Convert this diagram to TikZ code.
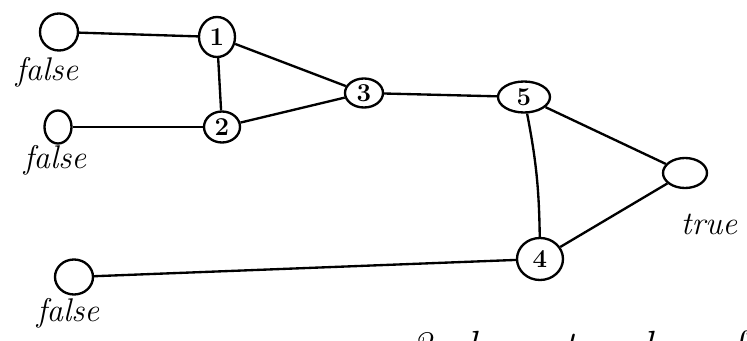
\documentclass[tikz,border=0pt]{standalone}
\usetikzlibrary{shapes.geometric}
\begin{document}
\begin{tikzpicture}[x=0.03cm,y=-0.03cm,line width=2pt,
    vert/.style={draw,ellipse,inner sep=0pt,font=\fontsize{22}{24}\selectfont\bfseries},
    lbl/.style={font=\fontsize{28}{30}\selectfont\itshape},
    note/.style={anchor=base,font=\fontsize{36}{40}\selectfont\itshape}]
    \useasboundingbox (0,0) rectangle (747,341);
    \clip (0,0) rectangle (747,341);
    \node[vert,minimum width=1.14cm,minimum height=1.11cm] (f1) at (59,32) {};
    \node[vert,minimum width=0.81cm,minimum height=0.99cm] (f2) at (58,127) {};
    \node[vert,minimum width=1.14cm,minimum height=1.05cm] (f3) at (74,277) {};
    \node[vert,minimum width=1.08cm,minimum height=1.2cm] (n1) at (217,37) {1};
    \node[vert,minimum width=1.08cm,minimum height=0.93cm] (n2) at (222,127) {2};
    \node[vert,minimum width=1.14cm,minimum height=0.87cm] (n3) at (364,93) {3};
    \node[vert,minimum width=1.38cm,minimum height=1.26cm] (n4) at (540,259) {4};
    \node[vert,minimum width=1.56cm,minimum height=0.93cm] (n5) at (524,97) {5};
    \node[vert,minimum width=1.32cm,minimum height=0.9cm] (t) at (685,173) {};
    \node[lbl] (lf1) at (47,72) {false};
    \node[lbl] (lf2) at (55,160) {false};
    \node[lbl] (lf3) at (68,313) {false};
    \node[lbl] (lt) at (709,224) {true};
    \draw (f1) -- (n1);
    \draw (f2) -- (n2);
    \draw (n1) -- (n2);
    \draw (n1) -- (n3);
    \draw (n2) -- (n3);
    \draw (n3) -- (n5);
    \draw (n5) to[bend left=5] (n4);
    \draw (n5) -- (t);
    \draw (t) -- (n4);
    \draw (f3) -- (n4);
    \foreach \w/\x in {3/421,has/496,to/580,be/660,f/738}
        \node[note] (w\x) at (\x,360) {\w};
\end{tikzpicture}
\end{document}
